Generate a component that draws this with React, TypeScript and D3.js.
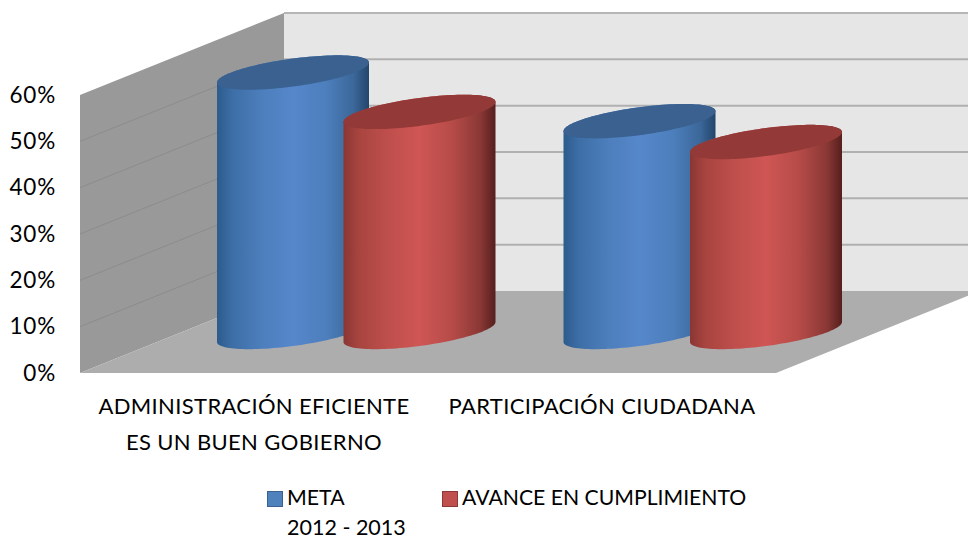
import React from "react";
import * as d3 from "d3";

const categories = ["ADMINISTRACIÓN EFICIENTE|ES UN BUEN GOBIERNO", "PARTICIPACIÓN CIUDADANA"];
const seriesNames = ["META", "AVANCE EN CUMPLIMIENTO"];
const metaValues = [0.56, 0.455];
const avanceValues = [0.475, 0.41];
const yTicks = [0, 0.1, 0.2, 0.3, 0.4, 0.5, 0.6];
const FONT = "Lato, 'Open Sans', sans-serif";

const W = 968, H = 540;
const x0 = 80, x1 = 776, dx = 204, dy = -82;
const y = d3.scaleLinear().domain([0, 0.6]).range([373, 95]);
const xCat = d3.scaleBand<number>().domain([0, 1]).range([x0, x1]);
const xBar = d3.scaleBand<number>().domain([0, 1]).range([x0 + 1, x1 - 2]);
const xSer = d3.scaleBand<number>().domain([0, 1]).range([-126.5, 126.5]);
const A = 76, B = 14, C = 10;
const ts = d3.range(0, 121).map((i) => (i / 120) * 2 * Math.PI);

const line = d3.line<[number, number]>();
const ellipsePt = (cx: number, cy: number, t: number): [number, number] => [
  cx + A * Math.cos(t),
  cy - B * Math.sin(t) - C * Math.cos(t),
];

function Bar({ cx, top, bottom, grad, cap }: { cx: number; top: number; bottom: number; grad: string; cap: string }) {
  const lower = ts.filter((t) => t >= Math.PI).map((t) => ellipsePt(cx, bottom, t));
  const upper = ts.filter((t) => t <= Math.PI).map((t) => ellipsePt(cx, top, t));
  const body = line([...upper, ...lower]) + "Z";
  const capPath = line(ts.map((t) => ellipsePt(cx, top, t))) + "Z";
  return (
    <g>
      <path d={body} fill={`url(#${grad})`} />
      <path d={capPath} fill={cap} />
    </g>
  );
}

const stops = (c: string[]) =>
  [0, 0.1, 0.3, 0.5, 0.72, 0.9, 1].map((o, i) => <stop key={i} offset={o} stopColor={c[i]} />);

export default function App() {
  const series = [metaValues, avanceValues];
  const backTop = y(0.6) + dy, backBottom = y(0) + dy;
  return (
    <svg width={W} height={H} style={{ position: "fixed", left: 0, top: 0, background: "#fff" }} fontFamily={FONT}>
      <defs>
        <linearGradient id="g0">{stops(["#2c5b8c", "#3d6ea6", "#4d7fbd", "#5587cb", "#4d7fbd", "#3b6799", "#23456b"])}</linearGradient>
        <linearGradient id="g1">{stops(["#8a3634", "#a8443f", "#bf4f4c", "#cf5654", "#b54b48", "#8a3835", "#551f1d"])}</linearGradient>
      </defs>
      {/* back wall */}
      <rect x={x0 + dx} y={backTop} width={x1 - x0} height={backBottom - backTop} fill="#e6e6e6" />
      <path d={`M${x0 + dx},${backTop}H${x1 + dx}`} stroke="#b5b5b5" strokeWidth={2} />
      {/* side wall */}
      <polygon
        points={`${x0},${y(0)} ${x0},${y(0.6)} ${x0 + dx},${backTop} ${x0 + dx},${backBottom}`}
        fill="#999999"
      />
      {/* floor */}
      <polygon
        points={`${x0},${y(0)} ${x1},${y(0)} ${x1 + dx},${backBottom} ${x0 + dx},${backBottom}`}
        fill="#adadad"
      />
      {/* gridlines */}
      {yTicks.slice(1, -1).map((t) => (
        <g key={t}>
          <path d={`M${x0},${y(t)}L${x0 + dx},${y(t) + dy}`} stroke="#8c8c8c" strokeWidth={1} />
          <path d={`M${x0 + dx},${y(t) + dy}H${x1 + dx}`} stroke="#b0b0b0" strokeWidth={2} />
        </g>
      ))}
      {/* bars */}
      {categories.map((_, c) =>
        series.map((vals, s) => {
          const cx = xBar(c)! + xBar.bandwidth() / 2 + dx / 2 + xSer(s)! + xSer.bandwidth() / 2;
          return (
            <Bar
              key={`${c}-${s}`}
              cx={cx}
              top={y(vals[c]) + dy / 2}
              bottom={y(0) + dy / 2}
              grad={`g${s}`}
              cap={s === 0 ? "#3a618f" : "#933a38"}
            />
          );
        })
      )}
      {/* y axis */}
      {yTicks.map((t) => (
        <text key={t} x={56} y={y(t) + 7.5} fontSize={22.5} letterSpacing={0.8} textAnchor="end" fill="#000">
          {`${Math.round(t * 100)}%`}
        </text>
      ))}
      {/* categories */}
      {categories.map((c, i) =>
        c.split("|").map((ln, j) => (
          <text key={j} x={xCat(i)! + xCat.bandwidth() / 2} y={414 + j * 36} fontSize={22} letterSpacing={0.35} textAnchor="middle" fill="#000">
            {ln}
          </text>
        ))
      )}
      {/* legend */}
      <rect x={267.5} y={491.5} width={15} height={15} fill="#4f81bd" stroke="#3a6291" />
      <text x={287} y={505} fontSize={21.3} fill="#000">{seriesNames[0]}</text>
      <text x={287} y={534.5} fontSize={21.5} fill="#000">2012 - 2013</text>
      <rect x={442.5} y={491.5} width={15} height={15} fill="#c0504d" stroke="#8c3836" />
      <text x={462} y={505} fontSize={21.2} fill="#000">{seriesNames[1]}</text>
    </svg>
  );
}
